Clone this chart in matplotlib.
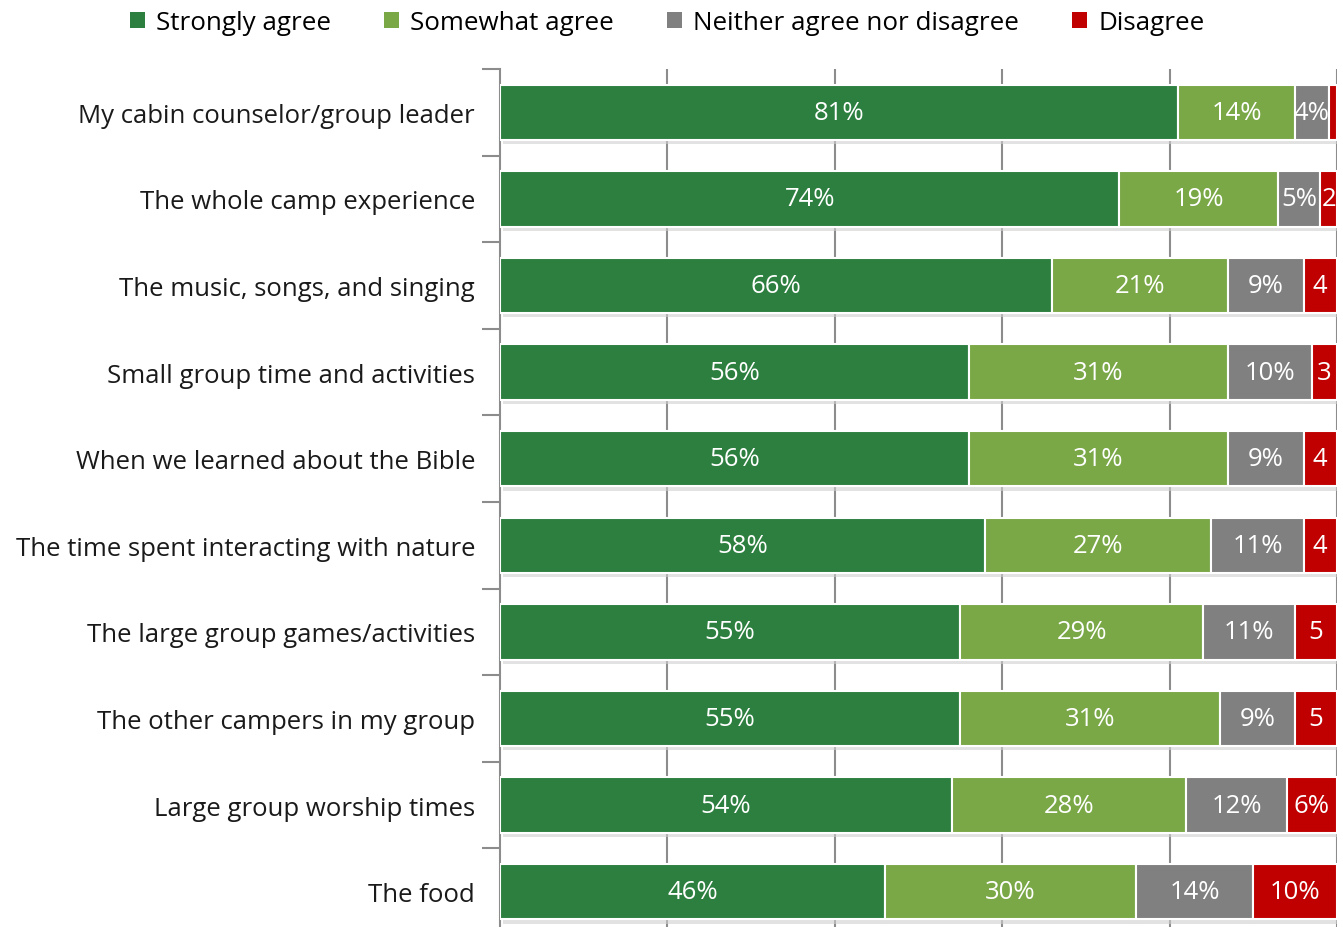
import matplotlib.pyplot as plt
import matplotlib.patheffects as pe
from matplotlib.patches import Patch
import numpy as np

categories = [
    "My cabin counselor/group leader",
    "The whole camp experience",
    "The music, songs, and singing",
    "Small group time and activities",
    "When we learned about the Bible",
    "The time spent interacting with nature",
    "The large group games/activities",
    "The other campers in my group",
    "Large group worship times",
    "The food",
]
series = ["Strongly agree", "Somewhat agree", "Neither agree nor disagree", "Disagree"]
strongly = [81, 74, 66, 56, 56, 58, 55, 55, 54, 46]
somewhat = [14, 19, 21, 31, 31, 27, 29, 31, 28, 30]
neither = [4, 5, 9, 10, 9, 11, 11, 9, 12, 14]
disagree = [1, 2, 4, 3, 4, 4, 5, 5, 6, 10]
colors = ["#2c7f3f", "#7aa847", "#808080", "#c00000"]

fig = plt.figure(figsize=(13.43, 9.28), dpi=100)
ax = fig.add_axes([500 / 1343, -8 / 928, 837 / 1343, 866 / 928])

y = np.arange(len(categories))
left = np.zeros(len(categories))
shadow = [pe.SimplePatchShadow(offset=(2, -3), shadow_rgbFace="#d0d0d0", alpha=0.6), pe.Normal()]

for name, vals, col in zip(series, [strongly, somewhat, neither, disagree], colors):
    vals = np.array(vals)
    bars = ax.barh(y, vals, left=left, height=0.64, color=col, edgecolor="white",
                   linewidth=1.5, zorder=3, path_effects=shadow)
    for b, v, l in zip(bars, vals, left):
        if name == "Disagree" and v < 2:
            continue
        txt = f"{v}%"
        if name == "Disagree" and v < 6:
            txt = f"{v}"
        t = ax.text(l + v / 2, b.get_y() + b.get_height() / 2, txt, ha="center", va="center",
                    color="white", fontsize=18.5, family="Open Sans", zorder=4)
        t.set_clip_path(b)
    left += vals

ax.set_xlim(0, 100)
ax.set_ylim(len(categories) - 0.5, -0.5)
ax.set_xticks([20, 40, 60, 80, 100])
ax.grid(axis="x", color="#8c8c8c", linewidth=1.5, zorder=0)
ax.tick_params(axis="x", length=0, labelbottom=False)

ax.set_yticks(y)
ax.set_yticklabels(categories, fontsize=18.5, family="Open Sans", color="#1a1a1a")
ax.set_yticks(np.arange(len(categories) + 1) - 0.5, minor=True)
ax.tick_params(axis="y", which="major", length=0, pad=18)
ax.tick_params(axis="y", which="minor", length=13, width=1.5, color="#8c8c8c")

for s in ["top", "right", "bottom"]:
    ax.spines[s].set_visible(False)
ax.spines["left"].set_color("#8c8c8c")
ax.spines["left"].set_linewidth(1.5)

# legend with plain square swatches
handles = [Patch(facecolor=c, edgecolor="none", label=s) for s, c in zip(series, colors)]
fig.legend(handles=handles, loc="upper center", bbox_to_anchor=(0.497, 1.013), ncol=4,
           frameon=False, handlelength=0.55, handleheight=0.55, handletextpad=0.45,
           columnspacing=2.05, prop={"family": "Open Sans", "size": 18.7})

fig.savefig("out.png", dpi=100)
